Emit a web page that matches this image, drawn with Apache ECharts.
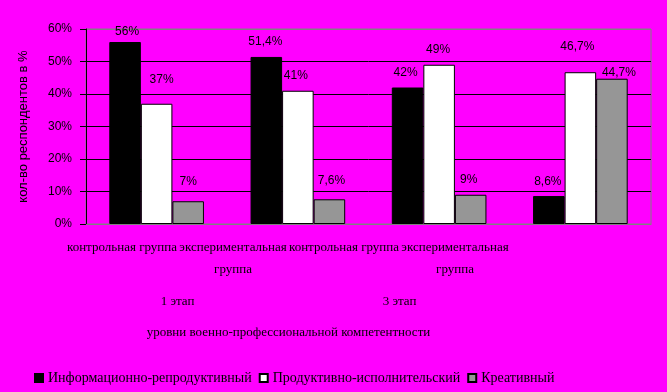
<!DOCTYPE html>
<html><head><meta charset="utf-8">
<script src="https://cdn.jsdelivr.net/npm/echarts@6/dist/echarts.min.js"></script>
<style>html,body{margin:0;padding:0;background:#ff00ff;}#c{width:667px;height:392px;}</style>
</head><body><div id="c"></div>
<script>
const categories = ['контрольная группа', 'экспериментальная\nгруппа', 'контрольная группа', 'экспериментальная\nгруппа'];
const stages = ['1 этап', '3 этап'];
const seriesNames = ['Информационно-репродуктивный', 'Продуктивно-исполнительский', 'Креативный'];
const infoRepro = [56, 51.4, 42, 8.6];
const prodIsp = [37, 41, 49, 46.7];
const creative = [7, 7.6, 9, 44.7];
const yTicks = [0, 10, 20, 30, 40, 50, 60];
const xTitle = 'уровни военно-профессиональной компетентности';
const yTitle = 'кол-во респондентов в %';

// label placement tweaks (style only)
const labelOffsets = [
  [[2, -4], [-1, -9], [-2, -9], [-1, -8]],
  [[5, -18], [-2, -9], [-1, -9], [-3, -20]],
  [[0, -14], [2, -13], [-2, -9], [7, 0]]
];
const fills = ['#000000', '#ffffff', '#969696'];
const values = [infoRepro, prodIsp, creative];

const sans = "'Liberation Sans', Arial, sans-serif";
const serif = "'Liberation Serif', 'Times New Roman', serif";
const txt = {color: '#000', textShadowColor: 'rgba(255,255,255,0.9)', textShadowOffsetX: 1, textShadowOffsetY: 1, textShadowBlur: 0};
const valText = Object.assign({fontFamily: sans, fontSize: 12}, txt);

const chart = echarts.init(document.getElementById('c'), null, {renderer: 'canvas'});
chart.setOption({
  backgroundColor: '#ff00ff',
  animation: false,
  textStyle: {fontFamily: serif},
  legend: {
    left: 29, top: 366, itemWidth: 8, itemHeight: 8, itemGap: 7,
    icon: 'rect',
    textStyle: {fontFamily: 'Liberation Serif', fontSize: 14, color: '#000'},
    data: seriesNames
  },
  grid: [
    {left: 86, right: 16, top: 29, bottom: 168, show: true, borderColor: '#808080', borderWidth: 1, backgroundColor: 'transparent'},
    {left: 66.5, width: 444, top: 29, bottom: 168, show: false}
  ],
  xAxis: [
    {type: 'category', gridIndex: 0, data: categories, axisLine: {lineStyle: {color: '#808080'}}, axisTick: {show: false}, axisLabel: {show: false}},
    {type: 'category', gridIndex: 1, data: categories, position: 'bottom', axisLine: {show: false}, axisTick: {show: false},
      axisLabel: Object.assign({fontFamily: serif, fontSize: 13, lineHeight: 22, margin: 13, interval: 0}, txt)},
    {type: 'category', gridIndex: 1, data: stages, position: 'bottom', offset: 58, axisLine: {show: false}, axisTick: {show: false},
      axisLabel: Object.assign({fontFamily: serif, fontSize: 13, lineHeight: 16, margin: 12, interval: 0}, txt),
      name: xTitle, nameLocation: 'middle', nameGap: 44,
      nameTextStyle: Object.assign({fontFamily: serif, fontSize: 13}, txt)}
  ],
  yAxis: [
    {type: 'value', gridIndex: 0, min: yTicks[0], max: yTicks[yTicks.length - 1], interval: 10,
      axisLine: {show: true, lineStyle: {color: '#000'}},
      axisTick: {show: true, length: 6, lineStyle: {color: '#000'}},
      axisLabel: Object.assign({fontFamily: sans, fontSize: 12, margin: 14, formatter: v => v + '%'}, txt),
      splitLine: {show: true, lineStyle: {color: ['#808080', '#000', '#000', '#000', '#000', '#000', '#808080'], width: 1}},
      name: yTitle, nameLocation: 'middle', nameGap: 56, nameRotate: 90,
      nameTextStyle: Object.assign({fontFamily: sans, fontSize: 13}, txt)},
    {type: 'value', gridIndex: 1, show: false}
  ],
  series: values.map((vals, si) => ({
    name: seriesNames[si], type: 'bar', xAxisIndex: 0, yAxisIndex: 0,
    barGap: '0%', barCategoryGap: '33%',
    itemStyle: {color: fills[si], borderColor: '#000', borderWidth: 1},
    data: vals.map((v, ci) => ({
      value: v,
      label: {show: true, position: 'top', distance: 0, offset: labelOffsets[si][ci]}
    })),
    label: Object.assign({}, valText, {formatter: p => String(p.value).replace('.', ',') + '%'})
  }))
});
</script></body></html>
